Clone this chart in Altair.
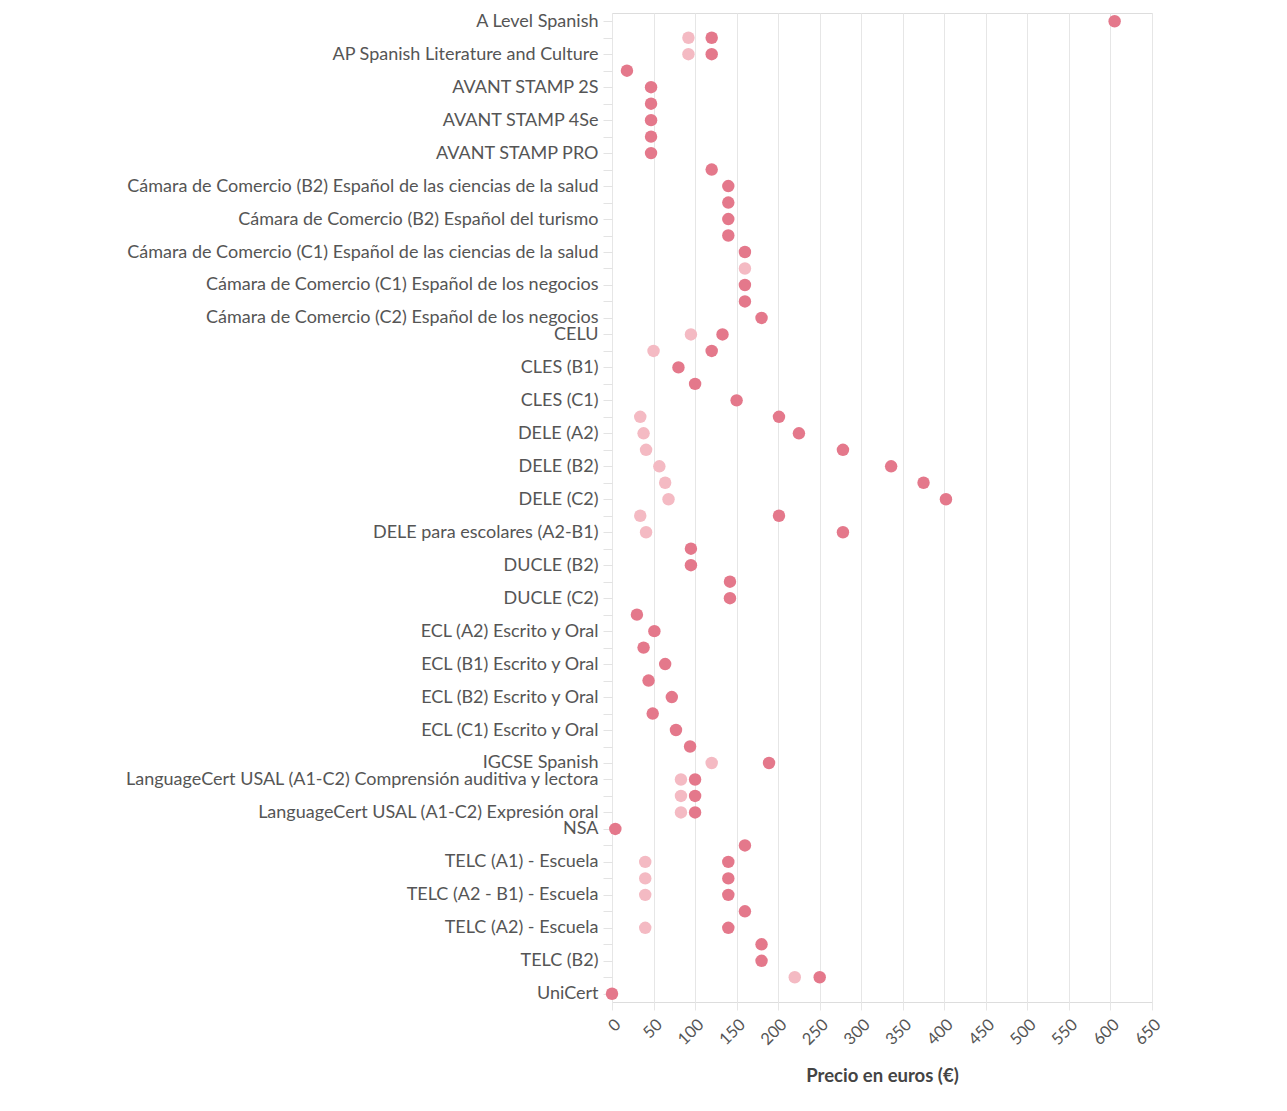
import json
import altair as alt
import pandas as pd

exams = [
    "A Level Spanish",
    "AP Spanish Language and Culture",
    "AP Spanish Literature and Culture",
    "AVANT PLACE",
    "AVANT STAMP 2S",
    "AVANT STAMP 4S",
    "AVANT STAMP 4Se",
    "AVANT STAMP Monolingual",
    "AVANT STAMP PRO",
    "Cámara de Comercio (B1) Español de los negocios",
    "Cámara de Comercio (B2) Español de las ciencias de la salud",
    "Cámara de Comercio (B2) Español de los negocios",
    "Cámara de Comercio (B2) Español del turismo",
    "Cámara de Comercio (B2) Español para las relaciones internacionales",
    "Cámara de Comercio (C1) Español de las ciencias de la salud",
    "Cámara de Comercio (C1) Español de las relaciones internacionales",
    "Cámara de Comercio (C1) Español de los negocios",
    "Cámara de Comercio (C1) Español del turismo",
    "Cámara de Comercio (C2) Español de los negocios",
    "CELU",
    "CLES (A2)",
    "CLES (B1)",
    "CLES (B2)",
    "CLES (C1)",
    "DELE (A1)",
    "DELE (A2)",
    "DELE (B1)",
    "DELE (B2)",
    "DELE (C1)",
    "DELE (C2)",
    "DELE para escolares (A1)",
    "DELE para escolares (A2-B1)",
    "DUCLE (B1)",
    "DUCLE (B2)",
    "DUCLE (C1)",
    "DUCLE (C2)",
    "ECL (A2) Escrito",
    "ECL (A2) Escrito y Oral",
    "ECL (B1) Escrito",
    "ECL (B1) Escrito y Oral",
    "ECL (B2) Escrito",
    "ECL (B2) Escrito y Oral",
    "ECL (C1) Escrito",
    "ECL (C1) Escrito y Oral",
    "ECL (C2) Escrito y Oral",
    "IGCSE Spanish",
    "LanguageCert USAL (A1-C2) Comprensión auditiva y lectora",
    "LanguageCert USAL (A1-C2) Expresión escrita",
    "LanguageCert USAL (A1-C2) Expresión oral",
    "NSA",
    "TELC (A1)",
    "TELC (A1) - Escuela",
    "TELC (A2 - B1)",
    "TELC (A2 - B1) - Escuela",
    "TELC (A2)",
    "TELC (A2) - Escuela",
    "TELC (B1)",
    "TELC (B2)",
    "TELC (C1)",
    "UniCert",
]

# labels that are legible on the reference axis
visible_labels = [
    "A Level Spanish",
    "AP Spanish Literature and Culture",
    "AVANT STAMP 2S",
    "AVANT STAMP 4Se",
    "AVANT STAMP PRO",
    "Cámara de Comercio (B2) Español de las ciencias de la salud",
    "Cámara de Comercio (B2) Español del turismo",
    "Cámara de Comercio (C1) Español de las ciencias de la salud",
    "Cámara de Comercio (C1) Español de los negocios",
    "Cámara de Comercio (C2) Español de los negocios",
    "CELU",
    "CLES (B1)",
    "CLES (C1)",
    "DELE (A2)",
    "DELE (B2)",
    "DELE (C2)",
    "DELE para escolares (A2-B1)",
    "DUCLE (B2)",
    "DUCLE (C2)",
    "ECL (A2) Escrito y Oral",
    "ECL (B1) Escrito y Oral",
    "ECL (B2) Escrito y Oral",
    "ECL (C1) Escrito y Oral",
    "IGCSE Spanish",
    "LanguageCert USAL (A1-C2) Comprensión auditiva y lectora",
    "LanguageCert USAL (A1-C2) Expresión oral",
    "NSA",
    "TELC (A1) - Escuela",
    "TELC (A2 - B1) - Escuela",
    "TELC (A2) - Escuela",
    "TELC (B2)",
    "UniCert",
]

precio = [
    605, 120, 120, 18, 47, 47, 47, 47, 47, 120,
    140, 140, 140, 140, 160, None, 160, 160, 180, 133,
    120, 80, 100, 150, 201, 225, 278, 336, 375, 402,
    201, 278, 95, 95, 142, 142, 30, 51, 38, 64,
    44, 72, 49, 77, 94, 189, 100, 100, 100, 4,
    160, 140, 140, 140, 160, 140, 180, 180, 250, 0,
]

precio_reducido = [
    None, 92, 92, None, None, None, None, None, None, None,
    None, None, None, None, None, 160, None, None, None, 95,
    50, None, None, None, 34, 38, 41, 57, 64, 68,
    34, 41, None, None, None, None, None, None, None, None,
    None, None, None, None, None, 120, 83, 83, 83, None,
    None, 40, 40, 40, None, 40, None, None, 220, None,
]

series = ["Precio reducido", "Precio"]
colors = ["#f4bac3", "#e4788b"]

rows = []
for e, p, r in zip(exams, precio, precio_reducido):
    if r is not None:
        rows.append({"examen": e, "serie": "Precio reducido", "precio": r, "orden": 0})
    if p is not None:
        rows.append({"examen": e, "serie": "Precio", "precio": p, "orden": 1})
df = pd.DataFrame(rows)

label_expr = "indexof(" + json.dumps(visible_labels, ensure_ascii=False) + ", datum.label) >= 0 ? datum.label : ''"

FONT = "Lato"

chart = (
    alt.Chart(df)
    .mark_circle(size=155, opacity=1)
    .encode(
        x=alt.X(
            "precio:Q",
            scale=alt.Scale(domain=[0, 650], nice=False),
            axis=alt.Axis(
                title="Precio en euros (€)",
                values=list(range(0, 651, 50)),
                labelAngle=-45,
                labelFontSize=16.5,
                labelColor="#555555",
                labelFont=FONT,
                labelPadding=6,
                tickSize=8,
                tickColor="#e6e6e6",
                gridColor="#e6e6e6",
                domain=False,
                titleFont=FONT,
                titleFontSize=18.5,
                titleFontWeight="bold",
                titleColor="#444444",
                titlePadding=19,
            ),
        ),
        y=alt.Y(
            "examen:N",
            sort=exams,
            scale=alt.Scale(padding=0.5),
            axis=alt.Axis(
                title=None,
                labelExpr=label_expr,
                labelFontSize=18,
                labelColor="#555555",
                labelFont=FONT,
                labelPadding=5,
                labelLimit=1000,
                tickSize=9,
                tickColor="#e3e3e3",
                domain=False,
                grid=False,
                minExtent=599,
                maxExtent=599,
            ),
        ),
        color=alt.Color(
            "serie:N",
            scale=alt.Scale(domain=series, range=colors),
            legend=None,
        ),
        order=alt.Order("orden:Q"),
    )
    .properties(width=540, height=989, padding={"left": 5, "top": 4, "right": 5, "bottom": 5})
    .configure_view(stroke="transparent", strokeWidth=0)
    .configure(background="white")
)

chart.save("out.html", embed_options={"renderer": "svg", "actions": False})
